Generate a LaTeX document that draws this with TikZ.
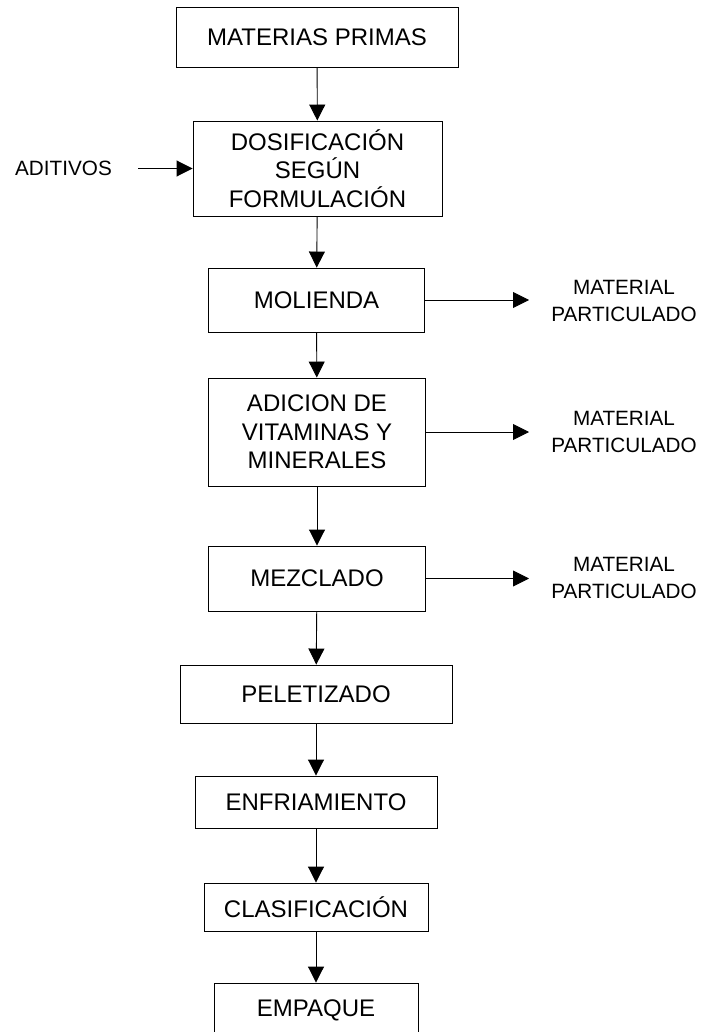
\documentclass[tikz,border=0pt]{standalone}
\usepackage{fontspec}
\setmainfont{Liberation Sans}
\usetikzlibrary{arrows.meta}
\begin{document}
\begin{tikzpicture}[x=1pt,y=-1pt,
  box/.style={draw=black,line width=0.9pt,inner sep=0pt,align=center,
    font=\fontsize{24}{28.5}\selectfont},
  lbl/.style={inner sep=0pt,align=center,font=\fontsize{20.7}{27}\selectfont},
  arr/.style={draw=black,line width=0.9pt,-{Triangle[length=16pt,width=16pt]}}]
\useasboundingbox (0,0) rectangle (707,1032);
\node[box,minimum width=282pt,minimum height=60pt] (b1) at (317,37) {MATERIAS PRIMAS};
\node[box,minimum width=249pt,minimum height=95pt] (b2) at (317.5,168.5) {DOSIFICACIÓN\\SEGÚN\\FORMULACIÓN};
\node[box,minimum width=216pt,minimum height=64pt] (b3) at (316.5,300) {MOLIENDA};
\node[box,minimum width=217pt,minimum height=108pt] (b4) at (317,432) {ADICION DE\\VITAMINAS Y\\MINERALES};
\node[box,minimum width=217pt,minimum height=65pt] (b5) at (317,578.5) {MEZCLADO};
\node[box,minimum width=272pt,minimum height=58pt] (b6) at (316,694) {PELETIZADO};
\node[box,minimum width=242pt,minimum height=52pt] (b7) at (316,802) {ENFRIAMIENTO};
\node[box,minimum width=224pt,minimum height=48pt] (b8) at (316,907) {CLASIFICACIÓN};
\node[box,minimum width=204pt,minimum height=58pt,text height=17pt,text depth=9pt] (b9) at (316,1012) {EMPAQUE};
\node[lbl] (ad) at (63.5,168.5) {ADITIVOS};
\coordinate (ads) at (138,168.5);
\node[lbl] (m1) at (624,300.5) {MATERIAL\\PARTICULADO};
\node[lbl] (m2) at (624,432) {MATERIAL\\PARTICULADO};
\node[lbl] (m3) at (624,578) {MATERIAL\\PARTICULADO};
\coordinate (t1) at (529,300);
\coordinate (t2) at (529,432);
\coordinate (t3) at (529,578.5);
\draw[arr] (b1) -- (b2);
\draw[arr] (b2) -- (b3);
\draw[arr] (b3) -- (b4);
\draw[arr] (b4) -- (b5);
\draw[arr] (b5) -- (b6);
\draw[arr] (b6) -- (b7);
\draw[arr] (b7) -- (b8);
\draw[arr] (b8) -- (b9);
\draw[arr] (ads) -- (b2.west);
\draw[arr] (b3.east) -- (t1);
\draw[arr] (b4.east) -- (t2);
\draw[arr] (b5.east) -- (t3);
\end{tikzpicture}
\end{document}
